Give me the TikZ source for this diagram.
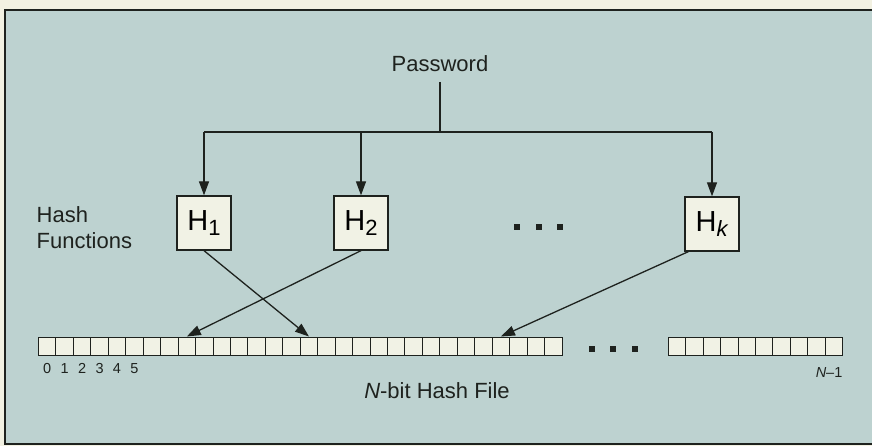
\documentclass[tikz,border=0pt]{standalone}
\usepackage{fontspec}
\setmainfont{Liberation Sans}
\usetikzlibrary{arrows.meta,calc}
\definecolor{bgblue}{RGB}{189,210,208}
\definecolor{paper}{RGB}{242,241,226}
\definecolor{cellfill}{RGB}{241,242,229}
\definecolor{ink}{RGB}{30,34,30}
\newcommand{\hlab}[1]{H\raisebox{-5pt}{\fontsize{22}{22}\selectfont #1}}
\begin{document}
\begin{tikzpicture}[x=1pt,y=-1pt,
  line width=1.3pt,
  arr/.style={draw=ink,-{Triangle[length=14pt,width=10pt]}},
  hbox/.style={draw=ink,fill=cellfill,minimum width=54pt,minimum height=54pt,inner sep=0pt,
    font=\fontsize{29}{29}\selectfont},
  cell/.style={draw=ink,fill=cellfill,minimum width=17.45pt,minimum height=18pt,inner sep=0pt,anchor=west,line width=1pt},
  lab/.style={font=\fontsize{22}{26}\selectfont,text=ink,inner sep=0pt},
  num/.style={font=\fontsize{14.5}{14.5}\selectfont,text=ink,inner sep=0pt,anchor=base}
]
\useasboundingbox (0,0) rectangle (872,446);
\fill[paper] (0,0) rectangle (872,446);
\fill[bgblue] (5,10) rectangle (872,444);
\draw[ink,line width=1.5pt] (872,10) -- (5,10) -- (5,444) -- (872,444);

% Password
\node[lab,anchor=base] (pw) at (440,72) {Password};

% hash boxes
\node[hbox] (h1) at (204,223) {\hlab{1}};
\node[hbox] (h2) at (361,223) {\hlab{2}};
\node[hbox] (hk) at (712,224) {\hlab{\textit{k}}};

\node[lab,anchor=base west,align=left] (hf) at (36,249) {Hash\\Functions};

% dots between boxes
\foreach \x in {517,539,560} \fill[ink] (\x-3,224) rectangle (\x+3,230);

% tree
\coordinate (j) at (440,132);
\draw[ink] ([yshift=-10pt]pw.base) -- (j);
\draw[ink] (h1.north |- j) -- (hk.north |- j);
\draw[arr] (h1.north |- j) -- (h1.north);
\draw[arr] (h2.north |- j) -- (h2.north);
\draw[arr] (hk.north |- j) -- (hk.north);

% bit array
\foreach \i in {0,...,29} \node[cell] (c\i) at (38+\i*17.45,346) {};
\foreach \i in {0,...,9} \node[cell] (r\i) at (668+\i*17.4,346) {};
\foreach \x in {592,613,635} \fill[ink] (\x-3,346) rectangle (\x+3,352);

\foreach \i in {0,...,5} \node[num] (n\i) at (c\i.center |- 0,373) {\i};
\node[num,anchor=base east] (nl) at (843,377) {\textit{N}–1};

\node[lab,anchor=base] (file) at (437,398) {\textit{N}-bit Hash File};

% hash arrows
\draw[arr] (h1.south) -- (c15.north);
\draw[arr] (h2.south) -- (c8.north);
\draw[arr] ($(hk.south west)+(4,0)$) -- (c26.north);
\end{tikzpicture}
\end{document}
